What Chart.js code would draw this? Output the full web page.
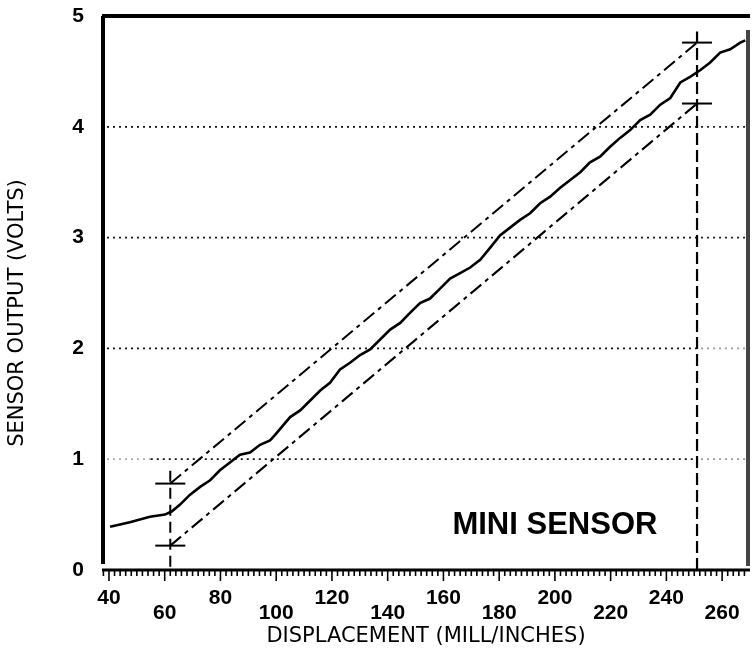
<!DOCTYPE html>
<html lang="en">

<head>
    <meta charset="UTF-8">
    <title>Mini Sensor</title>
    <script src="https://cdn.jsdelivr.net/npm/chart.js"></script>
    <style>
        body {
            margin: 0;
            background-color: #fff;
        }

        .chart-box {
            width: 756px;
            height: 658px;
        }
    </style>
</head>

<body>

    <div class="chart-box">
        <canvas id="grafico"></canvas>
    </div>

    <script>
        // sensor curve
        var displacement = [40.4, 47.5, 54.7, 60.1, 62.6, 65.5, 69.1, 72.7, 76.3, 79.8, 83.4, 87.0, 90.6, 94.2, 97.8,
            99.6, 105.0, 108.6, 112.2, 115.8, 119.3, 122.9, 126.5, 130.1, 133.7, 137.3, 140.9, 144.5, 148.0, 151.6,
            155.2, 158.8, 162.4, 166.0, 169.6, 173.2, 176.8, 180.3, 183.9, 187.5, 191.1, 194.7, 198.3, 201.9, 205.5,
            209.1, 212.6, 216.2, 219.8, 223.4, 227.0, 230.6, 234.2, 237.8, 241.4, 245.0, 248.5, 252.1, 255.7, 259.3,
            262.9, 266.5, 268.3];
        var volts = [0.39, 0.43, 0.48, 0.50, 0.53, 0.59, 0.68, 0.75, 0.81, 0.90, 0.97, 1.04, 1.06, 1.13, 1.17,
            1.22, 1.38, 1.44, 1.53, 1.62, 1.69, 1.81, 1.87, 1.94, 1.99, 2.08, 2.17, 2.23, 2.32, 2.41,
            2.45, 2.54, 2.63, 2.68, 2.73, 2.80, 2.91, 3.02, 3.09, 3.16, 3.22, 3.31, 3.37, 3.45, 3.52,
            3.59, 3.68, 3.73, 3.82, 3.90, 3.97, 4.06, 4.11, 4.20, 4.26, 4.40, 4.45, 4.51, 4.58, 4.67,
            4.70, 4.76, 4.78];

        // tolerance band and its end markers
        var markerX = [62, 251];
        var bandUpper = [0.78, 4.76];
        var bandLower = [0.22, 4.21];
        var markerLineTop = [0.92, 4.86];

        var xTickValues = [40, 60, 80, 100, 120, 140, 160, 180, 200, 220, 240, 260];
        var xTickLabels = ['40', '60', '80', '100', '120', '140', '160', '180', '200', '220', '240', '260'];
        var yTickValues = [0, 1, 2, 3, 4, 5];
        var yTickLabels = ['0', '1', '2', '3', '4', '5'];
        var gridValues = [1, 2, 3, 4];

        var curva = displacement.map(function (x, i) { return { x: x, y: volts[i] }; });

        function linha(x0, y0, x1, y1) {
            return [{ x: x0, y: y0 }, { x: x1, y: y1 }];
        }

        function semPadding(s) {
            s.paddingTop = 0;
            s.paddingBottom = 0;
            s.paddingLeft = 0;
            s.paddingRight = 0;
        }

        // dotted grid, frame and bottom ruler
        var moldura = {
            id: 'moldura',
            beforeDatasetsDraw: function (chart) {
                var ctx = chart.ctx, xs = chart.scales.x, ys = chart.scales.y, a = chart.chartArea;
                var xv = xs.getPixelForValue(markerX[1]);
                ctx.save();
                ctx.lineWidth = 1.7;
                ctx.setLineDash([2, 4]);
                gridValues.forEach(function (v) {
                    var py = ys.getPixelForValue(v);
                    var x0 = a.left + 5;
                    if (v === 1) {
                        ctx.strokeStyle = '#aaa';
                        ctx.beginPath(); ctx.moveTo(x0, py); ctx.lineTo(xs.getPixelForValue(55), py); ctx.stroke();
                        x0 = xs.getPixelForValue(55);
                    }
                    ctx.strokeStyle = '#111';
                    ctx.beginPath(); ctx.moveTo(x0, py); ctx.lineTo(xv, py); ctx.stroke();
                    ctx.strokeStyle = v <= 2 ? '#999' : '#222';
                    ctx.beginPath(); ctx.moveTo(xv + 4, py); ctx.lineTo(a.right - 4, py); ctx.stroke();
                });
                ctx.restore();
            },
            afterDraw: function (chart) {
                var ctx = chart.ctx, xs = chart.scales.x, ys = chart.scales.y, a = chart.chartArea;
                ctx.save();
                ctx.fillStyle = '#000';
                ctx.font = 'bold 31px "Liberation Sans", Arial, sans-serif';
                ctx.textAlign = 'center';
                ctx.textBaseline = 'middle';
                ctx.fillText('MINI SENSOR', xs.getPixelForValue(200), ys.getPixelForValue(0.4));

                ctx.strokeStyle = '#000';
                ctx.lineWidth = 4;
                ctx.beginPath(); ctx.moveTo(a.left, a.top); ctx.lineTo(a.right, a.top); ctx.stroke();
                ctx.beginPath(); ctx.moveTo(a.left + 1, a.top); ctx.lineTo(a.left + 1, a.bottom - 6); ctx.stroke();
                ctx.strokeStyle = '#444';
                ctx.beginPath(); ctx.moveTo(a.right - 2, a.top + 14); ctx.lineTo(a.right - 2, a.bottom - 4); ctx.stroke();
                ctx.strokeStyle = '#000';
                ctx.lineWidth = 3;
                ctx.beginPath(); ctx.moveTo(a.left, a.bottom); ctx.lineTo(a.right, a.bottom); ctx.stroke();
                ctx.lineWidth = 1.6;
                for (var v = 38; v <= 268; v += 2) {
                    var px = xs.getPixelForValue(v);
                    var len = v % 20 === 0 ? 11 : 6;
                    ctx.beginPath(); ctx.moveTo(px, a.bottom); ctx.lineTo(px, a.bottom + len); ctx.stroke();
                }
                ctx.restore();
            }
        };

        var contexto = document.getElementById('grafico').getContext('2d');
        var grafico = new Chart(contexto, {
            type: 'scatter',
            data: {
                datasets: [
                    {
                        label: 'Mini sensor',
                        data: curva,
                        showLine: true,
                        borderColor: '#000',
                        borderWidth: 2.6,
                        pointRadius: 0,
                        tension: 0
                    },
                    {
                        label: 'Upper limit',
                        data: linha(markerX[0], bandUpper[0], markerX[1], bandUpper[1]),
                        showLine: true,
                        borderColor: '#000',
                        borderWidth: 2,
                        borderDash: [14, 5, 4, 5],
                        pointRadius: 0
                    },
                    {
                        label: 'Lower limit',
                        data: linha(markerX[0], bandLower[0], markerX[1], bandLower[1]),
                        showLine: true,
                        borderColor: '#000',
                        borderWidth: 2,
                        borderDash: [14, 5, 4, 5],
                        pointRadius: 0
                    },
                    {
                        label: 'Start',
                        data: linha(markerX[0], 0.03, markerX[0], markerLineTop[0]),
                        showLine: true,
                        borderColor: '#000',
                        borderWidth: 2,
                        borderDash: [11, 6],
                        pointRadius: 0
                    },
                    {
                        label: 'End',
                        data: linha(markerX[1], 0, markerX[1], markerLineTop[1]),
                        showLine: true,
                        borderColor: '#000',
                        borderWidth: 2.2,
                        borderDash: [12, 5],
                        pointRadius: 0
                    },
                    {
                        label: 'Marks',
                        data: markerX.map(function (x, i) { return { x: x, y: bandUpper[i] }; })
                            .concat(markerX.map(function (x, i) { return { x: x, y: bandLower[i] }; })),
                        showLine: false,
                        pointStyle: 'line',
                        pointRadius: 15,
                        borderColor: '#000',
                        pointBorderWidth: 2
                    }
                ]
            },
            options: {
                responsive: true,
                maintainAspectRatio: false,
                animation: false,
                layout: { autoPadding: false, padding: { top: 16, right: 6, left: 0, bottom: 0 } },
                plugins: {
                    legend: { display: false },
                    tooltip: { enabled: false }
                },
                scales: {
                    x: {
                        type: 'linear',
                        min: 37.5,
                        max: 270,
                        afterBuildTicks: function (s) { s.ticks = xTickValues.map(function (v) { return { value: v }; }); },
                        afterFit: function (s) { s.height = 88; semPadding(s); },
                        grid: { display: false, drawTicks: false },
                        border: { display: false },
                        ticks: {
                            autoSkip: false,
                            maxRotation: 0,
                            padding: 21,
                            color: '#000',
                            font: { family: '"Liberation Sans", Arial, sans-serif', size: 21, weight: 'bold', lineHeight: 0.72 },
                            callback: function (value) {
                                var i = xTickValues.indexOf(value);
                                return i % 2 === 0 ? xTickLabels[i] : ['', xTickLabels[i]];
                            }
                        },
                        title: {
                            display: true,
                            text: 'DISPLACEMENT (MILL/INCHES)',
                            color: '#000',
                            font: { family: '"DejaVu Sans", sans-serif', size: 21 },
                            padding: { top: 0, bottom: 9 }
                        }
                    },
                    y: {
                        min: 0,
                        max: 5,
                        afterBuildTicks: function (s) { s.ticks = yTickValues.map(function (v) { return { value: v }; }); },
                        afterFit: function (s) { s.width = 102; semPadding(s); },
                        grid: { display: false, drawTicks: false },
                        border: { display: false },
                        ticks: {
                            padding: 18,
                            color: '#000',
                            font: { family: '"Liberation Sans", Arial, sans-serif', size: 21, weight: 'bold' },
                            callback: function (value) {
                                return yTickLabels[yTickValues.indexOf(value)];
                            }
                        },
                        title: {
                            display: true,
                            text: 'SENSOR OUTPUT (VOLTS)      ',
                            color: '#000',
                            font: { family: '"DejaVu Sans", sans-serif', size: 21 },
                            padding: { top: 5, bottom: 0 }
                        }
                    }
                }
            },
            plugins: [moldura]
        });
    </script>

</body>

</html>
